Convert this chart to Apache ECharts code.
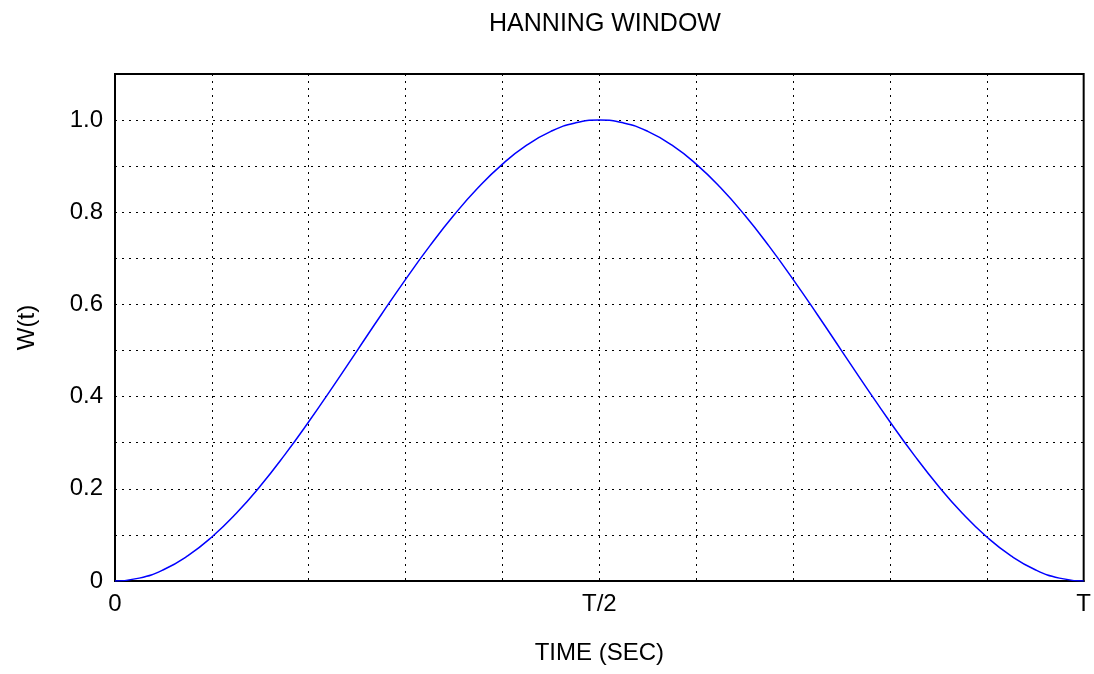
<!DOCTYPE html>
<html>
<head>
<meta charset="utf-8">
<script src="https://cdn.jsdelivr.net/npm/echarts@6/dist/echarts.min.js"></script>
<style>html,body{margin:0;padding:0;background:#fff;}#c{width:1094px;height:674px;}</style>
</head>
<body>
<div id="c"></div>
<script>
// Time as fraction of T
const timeFrac = [0,0.025,0.05,0.075,0.1,0.125,0.15,0.175,0.2,0.225,0.25,0.275,0.3,0.325,0.35,0.375,0.4,0.425,0.45,0.475,0.5,
  0.525,0.55,0.575,0.6,0.625,0.65,0.675,0.7,0.725,0.75,0.775,0.8,0.825,0.85,0.875,0.9,0.925,0.95,0.975,1];
const windowValues = [0,0.0062,0.0245,0.0545,0.0955,0.1464,0.2061,0.2730,0.3455,0.4218,0.5,0.5782,0.6545,0.7270,0.7939,0.8536,0.9045,0.9455,0.9755,0.9938,1,
  0.9938,0.9755,0.9455,0.9045,0.8536,0.7939,0.7270,0.6545,0.5782,0.5,0.4218,0.3455,0.2730,0.2061,0.1464,0.0955,0.0545,0.0245,0.0062,0];
const xTickValues = [0, 0.5, 1];
const xTickLabels = ['0', 'T/2', 'T'];
const yTickValues = [0, 0.2, 0.4, 0.6, 0.8, 1.0];
const yTickLabels = ['0', '0.2', '0.4', '0.6', '0.8', '1.0'];

const FONT = '"Liberation Sans", Arial, sans-serif';
const chart = echarts.init(document.getElementById('c'));
const dotted = {type: [2, 5], color: '#000', width: 1};
chart.setOption({
  animation: false,
  title: {text: 'HANNING WINDOW', left: 600, textAlign: 'center', top: 7,
    textStyle: {fontFamily: FONT, fontSize: 25, fontWeight: 'normal', color: '#000'}},
  grid: {left: 115, right: 7, top: 74, bottom: 93, show: true, borderColor: '#000', borderWidth: 2},
  xAxis: {
    type: 'value', min: 0, max: 1, interval: 0.1,
    name: 'TIME (SEC)', nameLocation: 'middle', nameGap: 60,
    nameTextStyle: {fontFamily: FONT, fontSize: 24, color: '#000'},
    axisLine: {show: true, lineStyle: {color: '#000', width: 2}},
    axisTick: {show: false},
    splitLine: {show: true, lineStyle: dotted},
    axisLabel: {fontFamily: FONT, fontSize: 24, color: '#000', margin: 11, showMaxLabel: true,
      formatter: v => { const i = xTickValues.findIndex(t => Math.abs(t - v) < 1e-6); return i >= 0 ? xTickLabels[i] : ''; }}
  },
  yAxis: {
    type: 'value', min: 0, max: 1.1, interval: 0.1,
    name: 'W(t)', nameLocation: 'middle', nameGap: 76, nameRotate: 90,
    nameTextStyle: {fontFamily: FONT, fontSize: 24, color: '#000'},
    axisLine: {show: true, lineStyle: {color: '#000', width: 2}},
    axisTick: {show: false},
    splitLine: {show: true, lineStyle: dotted},
    axisLabel: {fontFamily: FONT, fontSize: 24, color: '#000', margin: 12, showMaxLabel: false,
      formatter: v => { const i = yTickValues.findIndex(t => Math.abs(t - v) < 1e-6); return i >= 0 ? yTickLabels[i] : ''; }}
  },
  series: [{
    type: 'line', data: timeFrac.map((t, i) => [t, windowValues[i]]),
    showSymbol: false, smooth: true, lineStyle: {color: '#0000ff', width: 1.5}, z: 5
  }]
});
</script>
</body>
</html>
